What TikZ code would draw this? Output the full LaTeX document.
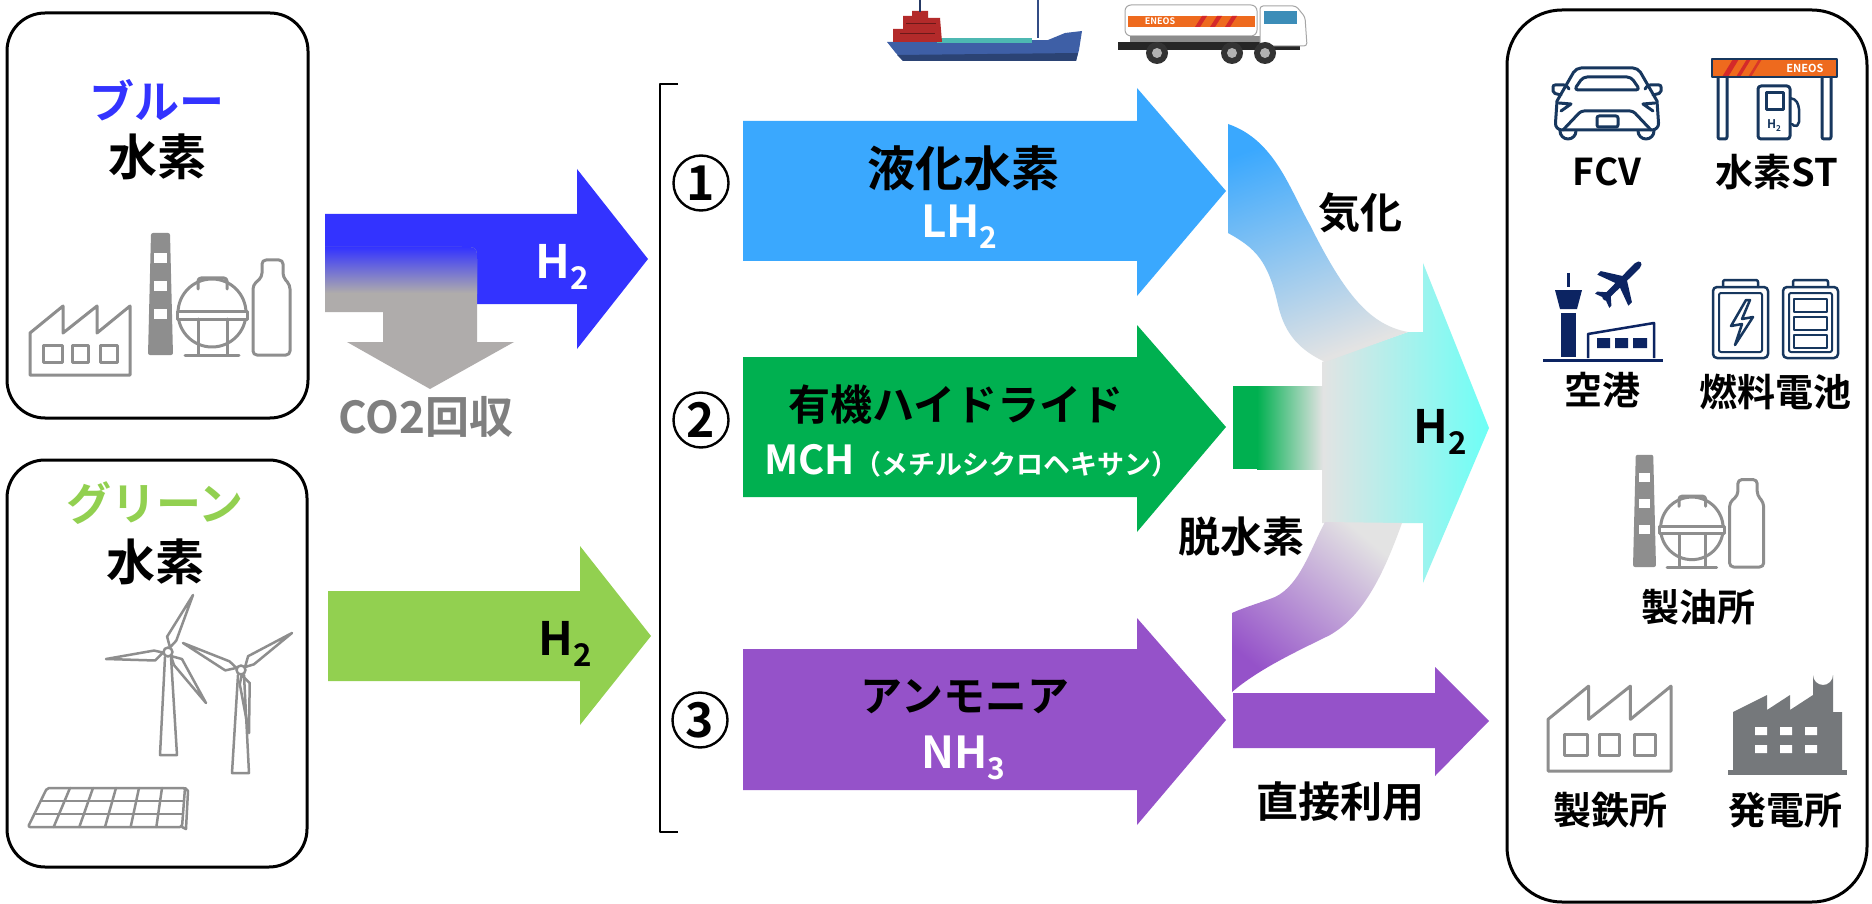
\documentclass[tikz,border=0pt]{standalone}
\usepackage{fontspec}
\usepackage{graphicx}
\setmainfont{Noto Sans CJK JP}[BoldFont={* Bold}]
\usetikzlibrary{calc}

\definecolor{blueH}{HTML}{3333FF}
\definecolor{co2gray}{HTML}{AFACAB}
\definecolor{greenH}{HTML}{92D050}
\definecolor{lhblue}{HTML}{3AA8FE}
\definecolor{mchgreen}{HTML}{00B050}
\definecolor{nhpurple}{HTML}{9552C9}
\definecolor{mist}{HTML}{E3E3E3}
\definecolor{cyanH}{HTML}{6DFFF6}
\definecolor{icongray}{HTML}{8E8E8E}
\definecolor{textgray}{HTML}{7F7F7F}
\definecolor{navy}{HTML}{17375E}
\definecolor{darknavy}{HTML}{0C2462}
\definecolor{plantgray}{HTML}{75787B}
\definecolor{enorange}{HTML}{EE6A1E}
\definecolor{enred}{HTML}{D42A2A}
\definecolor{shipblue}{HTML}{3E5FA6}
\definecolor{shipred}{HTML}{B32A2A}
\definecolor{shipteal}{HTML}{4DB8B2}
\definecolor{cabblue}{HTML}{3C8DB8}

\newcommand\lowsub[1]{\raisebox{-0.25em}{\scalebox{0.68}{#1}}}
% one turbine blade from hub #1 to tip #2
\newcommand\turbblade[2]{%
  \draw[iconline, line width=2.5pt] ($(#1)!5pt!(#2)$) -- ($(#1)!0.22!(#2)!7pt!90:(#2)$) -- (#2)
     -- ($(#1)!0.22!(#2)!-3pt!90:(#2)$) -- cycle;}

\tikzset{
  txt/.style={inner sep=0pt, font=\bfseries\fontsize{#1}{#1}\selectfont},
  frame/.style={draw=black, line width=3pt, rounded corners=#1},
  numc/.style={circle, draw, line width=2.4pt, minimum size=55pt, inner sep=0pt,
               font=\bfseries\fontsize{48}{48}\selectfont},
  iconline/.style={draw=icongray, line width=3pt, line join=round, line cap=round},
  navyline/.style={draw=navy, line width=3pt, line join=round, line cap=round},
  refinery/.pic={
    % chimney
    \fill[icongray, rounded corners=2pt] (0,0) -- (3,-122) -- (22,-122) -- (25,0) -- cycle;
    \fill[white] (6,-102) rectangle (19,-92);
    \fill[white] (6,-74) rectangle (19,-64);
    \fill[white] (6,-46) rectangle (19,-36);
    % spherical tank
    \draw[iconline, rounded corners=3pt] (50,-66) -- (50,-77) -- (79,-77) -- (79,-66);
    \draw[iconline] (64,-42) circle (34);
    \draw[iconline, fill=white] (29,-44) rectangle (99,-36);
    \draw[iconline] (50,-36) -- (50,0) (79,-36) -- (79,0) (37,0) -- (91,0);
    % cylinder tank
    \draw[iconline, rounded corners=4pt] (105,0) -- (105,-70) -- (114,-78) -- (114,-95)
       -- (135,-95) -- (135,-78) -- (142,-70) -- (142,0) -- cycle;
  },
  factoryicon/.pic={
    \draw[iconline] (0,0) -- (0,-42) -- (33,-69) -- (33,-42) -- (67,-69) -- (67,-42)
       -- (100,-69) -- (100,0) -- cycle;
    \draw[iconline] (13,-30) rectangle (32,-13) (42,-30) rectangle (58,-13) (70,-30) rectangle (87,-13);
  }
}

\begin{document}
\begin{tikzpicture}[x=1pt, y=-1pt, line join=round]
\useasboundingbox (0,0) rectangle (1872,904);
\fill[white] (0,0) rectangle (1872,904);

% ---------- blue hydrogen source ----------
\draw[frame=38pt] (7,13) rectangle (308,418);
\node[txt=45, text=blueH] (blueT) at (157,100) {ブルー};
\node[txt=49] (blueH2) at (157,157) {水素};
\pic at (30,375) {factoryicon};
\pic at (148,355) {refinery};

% ---------- green hydrogen source ----------
\draw[frame=38pt] (7,460) rectangle (307,867);
\node[txt=45, text=greenH] (greenT) at (155,503) {グリーン};
\node[txt=49] (greenH2) at (155,562) {水素};
% wind turbines
\coordinate (h1) at (168,652);
\coordinate (h2) at (241,670);
\draw[iconline, line width=2.5pt] (165,657) -- (160,755) -- (177,755) -- (171,657);
\draw[iconline, line width=2.5pt] (238,675) -- (232,773) -- (249,773) -- (244,675);
\turbblade{h1}{193,595}
\turbblade{h1}{106,659}
\turbblade{h1}{206,703}
\turbblade{h2}{292,633}
\turbblade{h2}{183,643}
\turbblade{h2}{249,733}
\draw[iconline, line width=2.5pt, fill=white] (h1) circle (4.5);
\draw[iconline, line width=2.5pt, fill=white] (h2) circle (4.5);
% solar panel
\coordinate (pTL) at (47,788);
\coordinate (pTR) at (185,788);
\coordinate (pBL) at (28,827);
\coordinate (pBR) at (182,827);
\draw[iconline, line width=2.5pt] (pTR) -- (188,791) -- (186,829) -- (pBR);
\draw[iconline, line width=2.5pt, rounded corners=2pt] (pTL) -- (pTR) -- (pBR) -- (pBL) -- cycle;
\foreach \i in {1,...,5}
  \draw[iconline, line width=2.5pt] ($(pTL)!\i/6!(pTR)$) -- ($(pBL)!\i/6!(pBR)$);
\foreach \j in {1,2}
  \draw[iconline, line width=2.5pt] ($(pTL)!\j/3!(pBL)$) -- ($(pTR)!\j/3!(pBR)$);

% ---------- blue H2 arrow with CO2 capture branch ----------
\fill[blueH] (325,214) -- (577,214) -- (577,169) -- (648,259) -- (577,349) -- (577,304) -- (325,304) -- cycle;
\begin{scope}
  \clip (325,247) -- (462,247) .. controls (477,247) .. (477,262) -- (477,342) -- (514,342)
        -- (430,389) -- (347,342) -- (383,342) -- (383,312) -- (325,312) -- cycle;
  \fill[co2gray] (320,240) rectangle (520,395);
  \shade[top color=blueH, bottom color=co2gray] (320,247) rectangle (480,293);
\end{scope}
\node[txt=44, text=textgray] (co2) at (426,417) {CO2回収};
\node[txt=46, text=white, anchor=base west] (blueArrowT) at (535,278) {H\lowsub{2}};

% ---------- green H2 arrow ----------
\fill[greenH] (328,591) -- (580,591) -- (580,546) -- (651,636) -- (580,725) -- (580,681) -- (328,681) -- cycle;
\node[txt=46, anchor=base west] (greenArrowT) at (538,655) {H\lowsub{2}};

% ---------- carrier bracket ----------
\draw[line width=2pt] (678,84) -- (660,84) -- (660,832) -- (678,832);
\node[numc] (n1) at (701,183) {1};
\node[numc] (n2) at (701,420) {2};
\node[numc] (n3) at (700,720) {3};

% ---------- carrier arrows ----------
\fill[lhblue] (743,121) -- (1137,121) -- (1137,88) -- (1226,191) -- (1137,296) -- (1137,261) -- (743,261) -- cycle;
\node[txt=48] (lh2T) at (963,168) {液化水素};
\node[txt=44, text=white, anchor=base west] (lh2F) at (921,238) {LH\lowsub{2}};

\fill[mchgreen] (743,357) -- (1137,357) -- (1137,325) -- (1226,427) -- (1137,532) -- (1137,497) -- (743,497) -- cycle;
\node[txt=42] (mchT) at (956,405) {有機ハイドライド};
\node[txt=40, text=white, anchor=base west] (mchF) at (764,474) {MCH{\fontsize{27}{27}\selectfont （メチルシクロヘキサン）}};

\fill[nhpurple] (743,649) -- (1137,649) -- (1137,618) -- (1226,720) -- (1137,825) -- (1137,790) -- (743,790) -- cycle;
\node[txt=42] (nh3T) at (965,697) {アンモニア};
\node[txt=44, text=white, anchor=base west] (nh3F) at (921,768) {NH\lowsub{3}};

% ---------- conversion to hydrogen ----------
\shade[left color=mist, right color=cyanH] (1322,362) -- (1408,332) -- (1423,332) -- (1423,263)
   -- (1489,428) -- (1423,583) -- (1423,523) -- (1322,523) -- cycle;
% vaporisation stream
\shade[top color=lhblue, middle color=lhblue!78!mist, bottom color=mist, shading angle=20]
   (1228,124) .. controls (1275,140) and (1290,190) .. (1310,225)
   .. controls (1345,295) and (1370,325) .. (1408,332) -- (1325,362)
   .. controls (1300,350) and (1285,335) .. (1278,305)
   .. controls (1268,260) and (1255,248) .. (1228,233) -- cycle;
% dehydrogenation stream
\fill[mchgreen] (1233,386) rectangle (1258,469);
\shade[left color=mchgreen, right color=mist] (1257,386) rectangle (1323,469);
% cracking stream
\shade[bottom color=nhpurple, middle color=nhpurple!75!mist, top color=mist, shading angle=-40]
   (1325,522) .. controls (1310,550) and (1300,585) .. (1275,597)
   .. controls (1260,603) and (1245,607) .. (1232,613) -- (1232,692)
   .. controls (1260,668) and (1300,650) .. (1330,635)
   .. controls (1365,615) and (1385,570) .. (1402,523) -- cycle;
\node[txt=46, anchor=base west] (h2out) at (1413,443) {H\lowsub{2}};
\node[txt=42] (vapT) at (1360,213) {気化};
\node[txt=42] (dehT) at (1241,537) {脱水素};

% direct use
\fill[nhpurple] (1233,693) -- (1435,693) -- (1435,667) -- (1489,721) -- (1435,776) -- (1435,748) -- (1233,748) -- cycle;
\node[txt=42] (directT) at (1340,802) {直接利用};

% ---------- ship ----------
\fill[shipblue] (887,42) -- (1048,40) -- (1065,33) -- (1082,31) -- (1079,50) -- (1076,61) -- (903,61) -- (895,52) -- cycle;
\fill[shipblue!70!black] (897,55) -- (1078,53) -- (1076,61) -- (903,61) -- cycle;
\fill[shipteal] (937,38) rectangle (1032,43);
\fill[shipred] (893,42) -- (893,29) -- (903,29) -- (903,16) -- (912,16) -- (912,11) -- (928,11)
   -- (928,18) -- (940,18) -- (942,42) -- cycle;
\draw[shipred!60!black, line width=1pt] (900,34) -- (935,34) (906,24) -- (936,24);
\draw[shipblue!60!black, line width=2.5pt] (920,0) -- (920,12);
\draw[shipblue!80!black, line width=2pt] (1038,0) -- (1038,38);

% ---------- tanker truck ----------
\draw[black!35, line width=1pt, fill=white, rounded corners=6pt] (1125,5) rectangle (1257,36);
\fill[enorange] (1128,16) rectangle (1255,27);
\fill[enred] (1195,27) -- (1202,16) -- (1207,16) -- (1200,27) -- cycle;
\fill[enred] (1210,27) -- (1217,16) -- (1222,16) -- (1215,27) -- cycle;
\fill[enred] (1225,27) -- (1232,16) -- (1237,16) -- (1230,27) -- cycle;
\node[txt=9, text=white] (eneosT) at (1160,21.5) {ENEOS};
\fill[black!45] (1130,36) rectangle (1270,42);
\fill[black!85] (1118,42) rectangle (1300,50);
\draw[black!35, line width=1pt, fill=white, rounded corners=3pt] (1260,6) -- (1296,6) -- (1305,17) -- (1307,46) -- (1260,46) -- cycle;
\fill[cabblue] (1264,11) rectangle (1297,24);
\foreach \wx in {1157,1232,1265} {
  \fill[black!80] (\wx,53) circle (11);
  \fill[black!30] (\wx,53) circle (5);
}

% ---------- end uses ----------
\draw[frame=55pt] (1507,10) rectangle (1867,902);

% fuel cell vehicle
\draw[navyline, rounded corners=5pt] (1557,101) -- (1576,68) -- (1638,68) -- (1657,101);
\draw[navyline, rounded corners=4pt] (1574,90) -- (1583,77) -- (1631,77) -- (1640,90) -- cycle;
\draw[navyline, rounded corners=2pt] (1561,95) -- (1553,93) -- (1553,85) -- (1566,85) -- (1569,89);
\draw[navyline, rounded corners=2pt] (1653,95) -- (1661,93) -- (1661,85) -- (1648,85) -- (1645,89);
\draw[navyline, rounded corners=7pt] (1557,101) -- (1555,130) -- (1659,130) -- (1657,101);
\draw[navyline, rounded corners=3pt] (1563,130) -- (1581,111) -- (1633,111) -- (1651,130);
\draw[navyline] (1559,103) -- (1571,104) -- (1561,111);
\draw[navyline] (1655,103) -- (1643,104) -- (1653,111);
\draw[navyline, rounded corners=2pt] (1597,116) rectangle (1618,127);
\draw[navyline] (1560,131) arc[start angle=180, end angle=0, radius=8];
\draw[navyline] (1638,131) arc[start angle=180, end angle=0, radius=8];
\node[txt=37] (fcvT) at (1607,172) {FCV};

% hydrogen station
\fill[enorange] (1712,59) rectangle (1837,77);
\fill[enred] (1722,77) -- (1733,59) -- (1739,59) -- (1728,77) -- cycle;
\fill[enred] (1736,77) -- (1747,59) -- (1751,59) -- (1740,77) -- cycle;
\fill[enred!80!enorange] (1748,77) -- (1759,59) -- (1762,59) -- (1751,77) -- cycle;
\draw[navy, line width=2.5pt] (1712,59) rectangle (1837,77);
\node[txt=11, text=white] (stEneos) at (1805,68) {ENEOS};
\draw[navyline, rounded corners=2pt] (1718,78) -- (1718,139) -- (1727,139) -- (1727,78);
\draw[navyline, rounded corners=2pt] (1822,78) -- (1822,139) -- (1831,139) -- (1831,78);
\draw[navyline, rounded corners=3pt] (1758,139) -- (1758,86) -- (1790,86) -- (1790,139) -- cycle;
\draw[navyline] (1766,93) rectangle (1783,110);
\draw[navyline, line width=2.5pt, rounded corners=2pt] (1790,98) -- (1796,100) -- (1799,107) -- (1799,124) -- (1795,127) -- (1792,124);
\node[txt=12, text=navy] (pumpH2) at (1774,126) {H\lowsub{2}};
\node[txt=38] (stT) at (1777,172) {水素ST};

% airport
\draw[darknavy, line width=3pt] (1568,273) -- (1568,287);
\fill[darknavy] (1555,290) -- (1582,290) -- (1577,309) -- (1560,309) -- cycle;
\fill[darknavy] (1561,313) rectangle (1576,357);
\draw[darknavy, line width=3pt] (1543,360) -- (1663,360);
\draw[darknavy, line width=2.5pt] (1588,358) -- (1588,334) -- (1654,323) -- (1654,358);
\fill[darknavy] (1597,338) rectangle (1610,348) (1615,338) rectangle (1628,348) (1633,338) rectangle (1647,348);
\begin{scope}[shift={(1622,281)}, rotate=45]
  \fill[darknavy, rounded corners=2pt] (-26,-3) -- (20,-3.5) .. controls (28,-3) and (28,3) .. (20,3.5) -- (-26,3) -- cycle;
  \fill[darknavy] (4,-3) -- (-8,-22) -- (-13,-22) -- (-6,-3) -- cycle;
  \fill[darknavy] (4,3) -- (-8,22) -- (-13,22) -- (-6,3) -- cycle;
  \fill[darknavy] (-18,-2) -- (-25,-10) -- (-28,-10) -- (-25,-2) -- cycle;
  \fill[darknavy] (-18,2) -- (-25,10) -- (-28,10) -- (-25,2) -- cycle;
\end{scope}
\node[txt=38] (airT) at (1602,390) {空港};

% fuel cells
\draw[navyline, line width=2.5pt, rounded corners=4pt] (1713,287) rectangle (1768,358);
\draw[navyline, line width=2.5pt, rounded corners=2pt] (1723,287) -- (1723,280) -- (1758,280) -- (1758,287);
\draw[navyline, line width=2pt, rounded corners=2pt] (1719,293) rectangle (1762,352);
\draw[navyline, line width=2.5pt] (1746,300) -- (1731,326) -- (1742,324) -- (1735,345) -- (1753,317) -- (1742,319) -- (1750,300) -- cycle;
\draw[navyline, line width=2.5pt, rounded corners=4pt] (1783,287) rectangle (1838,358);
\draw[navyline, line width=2.5pt, rounded corners=2pt] (1793,287) -- (1793,280) -- (1828,280) -- (1828,287);
\draw[navyline, line width=2pt, rounded corners=2pt] (1789,293) rectangle (1832,352);
\draw[navyline, line width=2.5pt] (1794,299) rectangle (1827,312) (1794,317) rectangle (1827,330) (1794,335) rectangle (1827,348);
\node[txt=38] (fcT) at (1775,392) {燃料電池};

% refinery
\pic[scale=0.92] at (1633,567) {refinery};
\node[txt=38] (refT) at (1698,607) {製油所};

% steelworks
\pic[scale=1.23] at (1548,771) {factoryicon};
\node[txt=38] (steelT) at (1610,810) {製鉄所};

% power plant
\fill[plantgray] (1728,770) rectangle (1847,775);
\fill[plantgray] (1733,771) -- (1733,712) -- (1767,695) -- (1767,710) -- (1790,695) -- (1790,710)
   -- (1813,695) -- (1813,675) arc[start angle=180, end angle=0, radius=10] -- (1833,712) -- (1842,712) -- (1842,771) -- cycle;
\fill[white] (1755,727) rectangle (1767,735) (1780,727) rectangle (1792,735) (1805,727) rectangle (1817,735);
\fill[white] (1755,745) rectangle (1767,753) (1780,745) rectangle (1792,753) (1805,745) rectangle (1817,753);
\node[txt=38] (powerT) at (1785,810) {発電所};

\end{tikzpicture}
\end{document}
